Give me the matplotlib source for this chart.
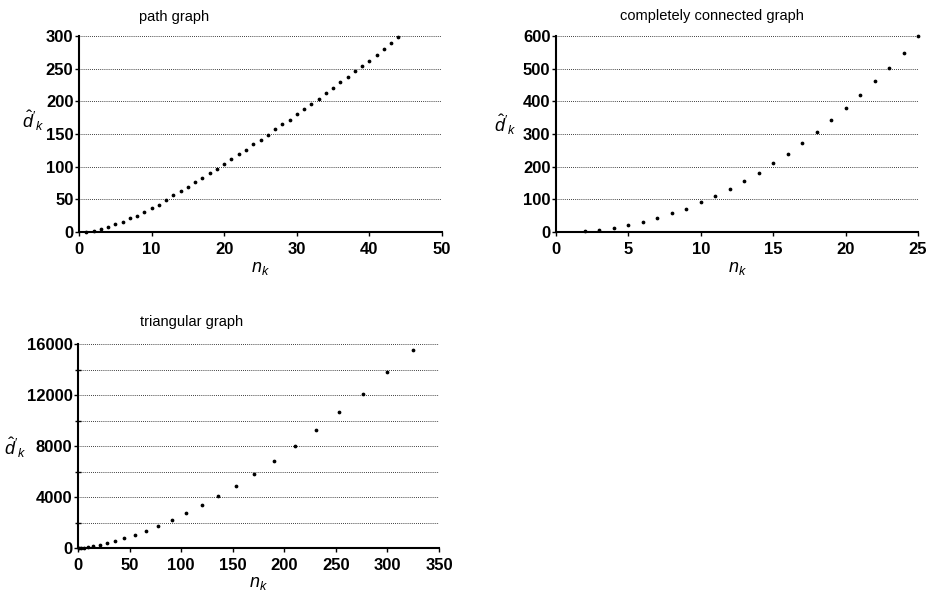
import numpy as np
import matplotlib.pyplot as plt
from matplotlib.ticker import MultipleLocator

plt.rcParams['font.family'] = ['Liberation Sans', 'DejaVu Sans']
plt.rcParams['mathtext.fontset'] = 'custom'
plt.rcParams['mathtext.it'] = 'Liberation Sans:italic'
plt.rcParams['mathtext.rm'] = 'Liberation Sans'

# path graph
path_n = list(range(1, 45))
path_d = [0, 2, 5, 8, 12, 16, 21, 25, 30, 36, 42, 49, 57, 63, 69, 76, 83, 90, 97, 104,
          111, 119, 126, 134, 141, 149, 157, 165, 172, 180, 188, 196, 203, 212, 221, 229,
          237, 246, 254, 262, 271, 280, 289, 298]

# completely connected graph
full_n = list(range(2, 26))
full_d = [3, 7, 12, 20, 30, 44, 58, 71, 92, 110, 133, 157, 180, 211, 239, 272, 305,
          344, 379, 420, 462, 503, 549, 599]

# triangular graph
tri_n = [1, 3, 6, 10, 15, 21, 28, 36, 45, 55, 66, 78, 91, 105, 120, 136, 153, 171,
         190, 210, 231, 253, 276, 300, 325]
tri_d = [0, 5, 30, 80, 150, 230, 380, 550, 760, 1050, 1340, 1730, 2180, 2750, 3380,
         4070, 4900, 5820, 6790, 8000, 9230, 10650, 12040, 13770, 15550]

# title, x, y, xlim, ylim, xstep, ystep, yminor, axes box (px), title pos (px), ylabel pos (px)
panels = [
    ('path graph', path_n, path_d, (0, 50), (0, 300), 10, 50, None,
     [79, 232, 442, 36], (174, 17), (33, 121)),
    ('completely connected graph', full_n, full_d, (0, 25), (0, 600), 5, 100, None,
     [556, 232, 918, 36], (712, 16), (505, 125)),
    ('triangular graph', tri_n, tri_d, (0, 350), (0, 16000), 50, 4000, 2000,
     [78, 548, 439, 344], (192, 322), (15, 448)),
]

W, H = 930, 597
fig = plt.figure(figsize=(W / 100, H / 100), dpi=100)

for title, xs, ys, xlim, ylim, xstep, ystep, yminor, box, tpos, ylpos in panels:
    x0, yb, x1, yt = box
    ax = fig.add_axes([x0 / W, 1 - yb / H, (x1 - x0) / W, (yb - yt) / H])
    ax.plot(xs, ys, 'o', color='black', markersize=1.7, clip_on=False)
    ax.set_xlim(*xlim)
    ax.set_ylim(*ylim)
    ax.xaxis.set_major_locator(MultipleLocator(xstep))
    ax.yaxis.set_major_locator(MultipleLocator(ystep))
    if yminor:
        ax.yaxis.set_minor_locator(MultipleLocator(yminor))
        ax.grid(True, axis='y', which='both', linestyle=(0, (1, 1.5)), color='black', linewidth=0.6)
        ax.tick_params(axis='y', which='minor', direction='inout', length=5, width=1)
    else:
        ax.grid(True, axis='y', linestyle=(0, (1, 1.5)), color='black', linewidth=0.6)
    for s in ['top', 'right']:
        ax.spines[s].set_visible(False)
    for s in ['left', 'bottom']:
        ax.spines[s].set_linewidth(1.5)
    ax.tick_params(axis='both', which='major', direction='out', length=3, width=1,
                   labelsize=12, pad=1)
    ax.tick_params(axis='x', which='major', pad=4)
    for lab in ax.get_xticklabels() + ax.get_yticklabels():
        lab.set_fontweight('bold')
    ax.set_axisbelow(True)
    fig.text(tpos[0] / W, 1 - tpos[1] / H, title, ha='center', va='center', fontsize=10.5)
    ax.set_xlabel('$n_k$', fontsize=13, labelpad=2)
    ax.set_ylabel("$\\hat{d}'_k$", fontsize=13, rotation=0, va='center', ha='center')
    ax.yaxis.set_label_coords((ylpos[0] - x0) / (x1 - x0), (yb - ylpos[1]) / (yb - yt))

fig.savefig('out.png', dpi=100)
